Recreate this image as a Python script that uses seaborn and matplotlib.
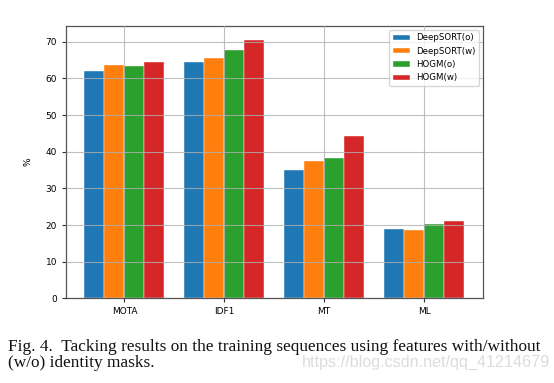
import matplotlib
matplotlib.use("Agg")
import matplotlib.pyplot as plt
import seaborn as sns
import pandas as pd

metrics = ["MOTA", "IDF1", "MT", "ML"]
methods = ["DeepSORT(o)", "DeepSORT(w)", "HOGM(o)", "HOGM(w)"]
deepsort_o = [62.1, 64.4, 34.9, 19.0]
deepsort_w = [63.6, 65.5, 37.4, 18.6]
hogm_o = [63.5, 67.9, 38.3, 20.4]
hogm_w = [64.4, 70.4, 44.2, 21.1]
colors = ["#1f77b4", "#ff7f0e", "#2ca02c", "#d62728"]

rows = []
for name, vals in zip(methods, [deepsort_o, deepsort_w, hogm_o, hogm_w]):
    for m, v in zip(metrics, vals):
        rows.append({"metric": m, "method": name, "value": v})
df = pd.DataFrame(rows)

fig = plt.figure(figsize=(5.54, 3.83), dpi=100)
ax = fig.add_axes([0.1191, 0.2211, 0.7527, 0.7117])
sns.barplot(data=df, x="metric", y="value", hue="method", order=metrics,
            hue_order=methods, palette=colors, width=0.8, saturation=1,
            edgecolor="white", linewidth=0.3, ax=ax)
ax.set_axisbelow(False)
ax.grid(True, color="#b0b0b0", linewidth=0.8, alpha=0.8)
ax.set_ylim(0, 74.4)
ax.set_xlim(-0.585, 3.59)
ax.set_yticks(range(0, 71, 10))
ax.set_xlabel("")
ax.set_ylabel("%", fontsize=6.5, labelpad=9)
ax.tick_params(labelsize=6.5, length=3, color="#333333")
for s in ax.spines.values():
    s.set_color("#555555")
    s.set_linewidth(0.9)
leg = ax.legend(loc="upper right", fontsize=6.2, frameon=True, handlelength=2.0,
                handleheight=0.6, borderpad=0.4, labelspacing=0.5,
                handletextpad=0.7, borderaxespad=0.5)
leg.get_frame().set_edgecolor("#cccccc")

fig.text(0.0145, 0.0836, "Fig. 4.  Tacking results on the training sequences using features with/without",
         family="Liberation Serif", fontsize=12.4, color="#111111")
fig.text(0.0145, 0.0418, "(w/o) identity masks.", family="Liberation Serif",
         fontsize=12.4, color="#111111")
fig.text(0.993, 0.0418, "https://blog.csdn.net/qq_41214679", family="Liberation Sans",
         fontsize=11.6, color="#dcdcdc", ha="right")

fig.savefig("out.png", dpi=100)
